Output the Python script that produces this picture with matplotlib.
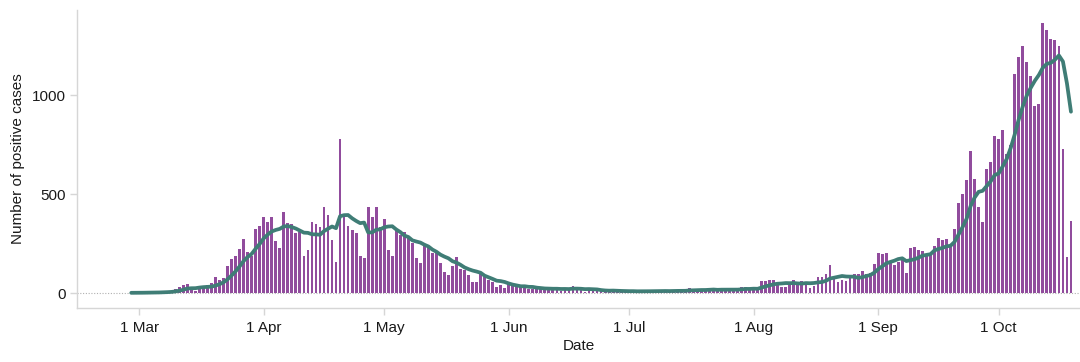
import numpy as np
import pandas as pd
import matplotlib
matplotlib.use("Agg")
import matplotlib.pyplot as plt
import matplotlib.dates as mdates

plt.rcParams['font.family'] = ['Liberation Sans', 'DejaVu Sans']

# daily positive cases, 28 Feb - 19 Oct
start_date = "2020-02-28"
cases = [
    1, 1, 2, 2, 3, 3, 4, 5, 6, 8,                      # 28 Feb - 8 Mar
    10, 20, 29, 40, 47, 15, 10, 32, 35, 39,
    49, 82, 66, 77, 138, 170, 187, 224, 273, 207,
    187, 321, 340, 382, 358, 382, 261, 225, 407, 352,
    347, 305, 310, 189, 217, 358, 347, 335, 433, 394,
    268, 158, 780,                                     # .. 20 Apr
    385, 340, 318, 301, 189, 178, 433, 384, 433, 335,
    372, 217, 187, 318, 293, 310, 284, 254, 175, 150,
    242, 231, 200, 207, 152, 104, 91, 139, 182, 122,
    115, 91, 55, 55, 96,                               # .. 25 May
    79, 66, 56, 29, 40, 24, 45, 37, 35, 29,
    29, 20, 20, 19, 24, 20, 24, 24, 20, 12,
    20, 20, 35, 24, 19, 7, 15, 15, 12, 12,
    10, 12, 10, 8, 10, 8,                              # .. 30 Jun
    8, 10, 7, 10, 8, 12, 10, 9, 12, 10,
    8, 12, 14, 10, 12, 25, 15, 12, 18, 15,
    18, 20, 15, 20, 12, 18, 15, 20, 30, 30,
    20,                                                # .. 31 Jul
    20, 15, 61, 61, 66, 66, 40, 29, 29, 57,
    66, 52, 61, 57, 24, 37, 79, 79, 96, 140,
    88, 54, 66, 61, 74, 96, 96, 111, 96, 99,
    146,                                               # .. 31 Aug
    200, 195, 200, 162, 140, 158, 172, 103, 226, 231,
    217, 212, 187, 195, 237, 279, 268, 273, 231, 323,
    456, 498, 571, 717, 577, 436, 358, 626, 663, 791,  # .. 30 Sep
    780, 822, 700, 750, 1104, 1193, 1249, 1168, 1096, 944,
    954, 1365, 1328, 1285, 1277, 1247, 730, 180, 365,
]

dates = pd.date_range(start_date, periods=len(cases), freq="D")
series = pd.Series(cases, index=dates)
avg7 = series.rolling(7, min_periods=1).mean()

bar_color = "#914c9d"
line_color = "#3f7d76"
grey = "#d6d6d6"

fig = plt.figure(figsize=(10.8, 3.62), dpi=100)
ax = fig.add_axes([0.0713, 0.149, 0.9287, 0.823])

ax.bar(dates, series.values, width=0.7, color=bar_color, zorder=2)
ax.plot(dates, avg7.values, color=line_color, lw=2.7, zorder=3,
        solid_capstyle="round", solid_joinstyle="round")
ax.axhline(0, color="#b0b0b0", lw=0.8, ls=(0, (1, 1.5)), zorder=1)

ax.set_xlim(pd.Timestamp("2020-02-14 12:00"), pd.Timestamp("2020-10-21 06:00"))
ax.set_ylim(-76, 1429)
ax.set_yticks([0, 500, 1000])
ax.xaxis.set_major_locator(mdates.MonthLocator(bymonth=range(3, 11)))
ax.xaxis.set_major_formatter(mdates.DateFormatter("%-d %b"))

for s in ["top", "right"]:
    ax.spines[s].set_visible(False)
for s in ["left", "bottom"]:
    ax.spines[s].set_color(grey)
    ax.spines[s].set_linewidth(1.0)
ax.tick_params(axis="both", colors=grey, length=5, width=1.0,
               labelcolor="#1a1a1a", labelsize=11)
ax.tick_params(axis="x", pad=4)
ax.tick_params(axis="y", pad=3)

ax.set_xlabel("Date", fontsize=11, color="#1a1a1a", labelpad=3)
ax.set_ylabel("Number of positive cases", fontsize=11, color="#1a1a1a",
              labelpad=5)

fig.savefig("out.png", dpi=100)
